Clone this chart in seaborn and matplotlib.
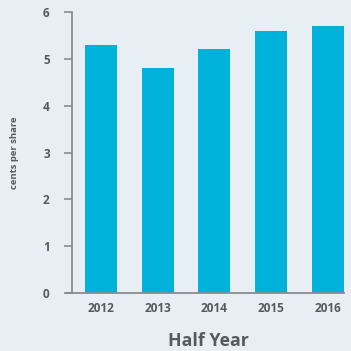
import matplotlib
matplotlib.use("Agg")
import matplotlib.pyplot as plt
import seaborn as sns
import pandas as pd

years = ["2012", "2013", "2014", "2015", "2016"]
values = [5.3, 4.8, 5.2, 5.6, 5.7]
yticks = [0, 1, 2, 3, 4, 5, 6]

bg = "#e7eff5"
bar_color = "#00b2d9"
text_color = "#555a60"
axis_color = "#8a8d90"

sns.set_theme(style="white")
plt.rcParams['font.family'] = ['Open Sans', 'DejaVu Sans']

df = pd.DataFrame({"year": years, "value": values})

fig = plt.figure(figsize=(3.51, 3.51), dpi=100, facecolor=bg)
ax = fig.add_axes([0.205, 0.165, 0.775, 0.801])
ax.set_facecolor(bg)
sns.barplot(data=df, x="year", y="value", color=bar_color, width=0.565,
            saturation=1, edgecolor="none", linewidth=0, ax=ax)

ax.set_ylim(0, 6)
ax.set_xlim(-0.51, 4.283)
ax.set_yticks(yticks)
ax.set_yticklabels([str(t) for t in yticks])

for s in ["top", "right"]:
    ax.spines[s].set_visible(False)
for s in ["left", "bottom"]:
    ax.spines[s].set_color(axis_color)
    ax.spines[s].set_linewidth(1.3)

ax.tick_params(axis="y", left=True, length=6, width=1.2, color=axis_color,
               labelsize=8.5, labelcolor=text_color, pad=10)
ax.tick_params(axis="x", bottom=False, labelsize=8.5, labelcolor=text_color, pad=0.5)
for lab in ax.get_xticklabels() + ax.get_yticklabels():
    lab.set_fontweight("bold")

ax.set_xlabel("Half Year", fontsize=12.8, color=text_color, fontweight="bold", labelpad=12)
ax.set_ylabel("cents per share", fontsize=6.8, color=text_color, fontweight="bold", labelpad=17)
# extend baseline to the left like the reference
ax.plot([-0.615, -0.51], [0, 0], color=axis_color, lw=1.3, clip_on=False)

fig.savefig("out.png", dpi=100, facecolor=bg)
